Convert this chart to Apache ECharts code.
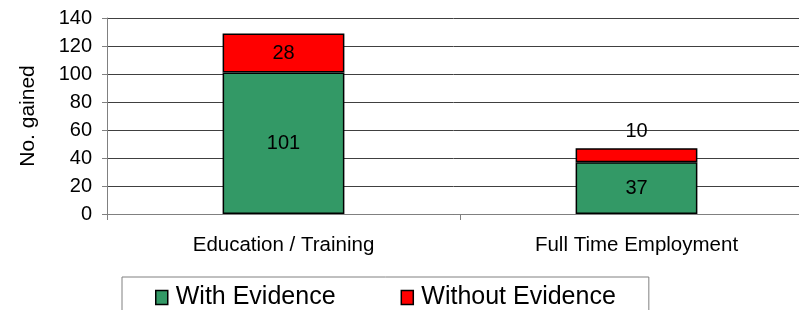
<!DOCTYPE html>
<html><head><meta charset="utf-8">
<script src="https://cdn.jsdelivr.net/npm/echarts@6/dist/echarts.min.js"></script>
<style>html,body{margin:0;padding:0;background:#fff}#c{width:799px;height:310px}</style>
</head><body><div id="c"></div>
<script>
const categories = ["Education / Training", "Full Time Employment"];
const withEvidence = [101, 37];
const withoutEvidence = [28, 10];
const yTicks = [0, 20, 40, 60, 80, 100, 120, 140];

const font = "Arial, 'Liberation Sans', sans-serif";
const chart = echarts.init(document.getElementById('c'));
chart.setOption({
  animation: false,
  textStyle: { fontFamily: font },
  grid: { left: 107, width: 706, top: 18, height: 196, containLabel: false, outerBoundsMode: 'none' },
  legend: {
    left: 122, top: 277,
    data: ["With Evidence", "Without Evidence"],
    icon: 'rect', itemWidth: 12, itemHeight: 14, itemGap: 65,
    borderColor: '#808080', borderWidth: 1, backgroundColor: '#fff',
    padding: [8, 33, 20, 33],
    textStyle: { fontSize: 25, color: '#000', fontFamily: font, padding: [0, 0, 6, 3] },
    itemStyle: { borderColor: '#000', borderWidth: 1.5 }
  },
  xAxis: {
    type: 'category', data: categories,
    axisLine: { lineStyle: { color: '#808080', width: 1 } },
    axisTick: { show: true, interval: 0, length: 6, lineStyle: { color: '#808080' } },
    axisLabel: { fontSize: 20.5, color: '#000', margin: 21, fontFamily: font }
  },
  yAxis: {
    type: 'value', min: yTicks[0], max: yTicks[yTicks.length - 1], interval: 20,
    name: 'No. gained', nameLocation: 'middle', nameGap: 68, nameRotate: 90,
    nameTextStyle: { fontSize: 21, color: '#000', fontFamily: font },
    axisLine: { show: true, lineStyle: { color: '#808080' } },
    axisTick: { show: true, length: 5, lineStyle: { color: '#808080' } },
    axisLabel: { fontSize: 20, color: '#000', margin: 15, fontFamily: font },
    splitLine: { lineStyle: { color: '#404040', width: 1 } }
  },
  series: [
    {
      name: 'With Evidence', type: 'bar', stack: 's', barWidth: '34.5%',
      data: withEvidence,
      itemStyle: { color: '#339966', borderColor: '#000', borderWidth: 1.5 },
      label: { show: true, position: 'inside', fontSize: 20, color: '#000', fontFamily: font }
    },
    {
      name: 'Without Evidence', type: 'bar', stack: 's', barWidth: '34.5%',
      data: withoutEvidence.map((v, i) => v >= 20 ? v : {
        value: v,
        label: { position: 'top', distance: 7 }
      }),
      itemStyle: { color: '#FF0000', borderColor: '#000', borderWidth: 1.5 },
      label: { show: true, position: 'inside', fontSize: 20, color: '#000', fontFamily: font }
    }
  ]
});
</script></body></html>
